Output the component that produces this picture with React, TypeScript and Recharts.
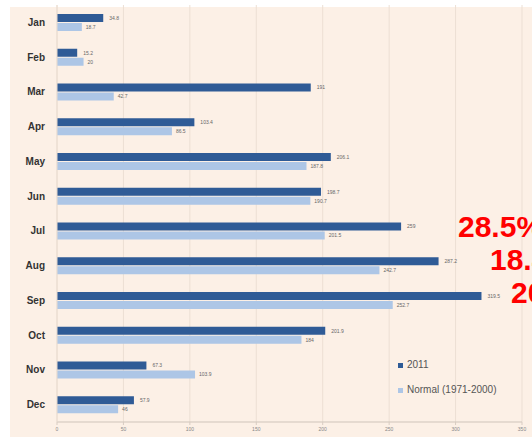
import React from 'react';
import { BarChart, Bar, XAxis, YAxis, CartesianGrid, Legend, LabelList } from 'recharts';

const months = ['Jan', 'Feb', 'Mar', 'Apr', 'May', 'Jun', 'Jul', 'Aug', 'Sep', 'Oct', 'Nov', 'Dec'];
const rain2011 = [34.8, 15.2, 191, 103.4, 206.1, 198.7, 259, 287.2, 319.5, 201.9, 67.3, 57.9];
const rainNormal = [18.7, 20.0, 42.7, 86.5, 187.8, 190.7, 201.5, 242.7, 252.7, 184, 103.9, 46];
const xTicks = [0, 50, 100, 150, 200, 250, 300, 350];
const notes = ['28.5%', '18.4', '20'];

const data = months.map((m, i) => ({ month: m, y2011: rain2011[i], normal: rainNormal[i] }));

const font = '"Liberation Sans Narrow", "Liberation Sans", Arial, sans-serif';
const noteStyle: React.CSSProperties = {
  position: 'absolute',
  color: '#ff0000',
  fontWeight: 'bold',
  fontSize: 30,
  lineHeight: '30px',
  fontFamily: '"Liberation Sans", Arial, sans-serif',
  whiteSpace: 'nowrap',
};

export default function App() {
  return (
    <div style={{ position: 'absolute', left: 0, top: 0, width: 532, height: 437, overflow: 'hidden', background: '#ffffff', fontFamily: font }}>
      <div style={{ position: 'absolute', left: 10, top: 7, right: 0, bottom: 0, background: '#fcf0e6' }} />
      <div style={{ position: 'absolute', left: 0, top: 0 }}>
        <BarChart
          width={532}
          height={437}
          data={data}
          layout="vertical"
          margin={{ top: 5, right: 10, bottom: 0, left: 0 }}
          barSize={8}
          barGap={1}
        >
          <CartesianGrid horizontal={false} stroke="#ecdfd4" />
          <XAxis
            type="number"
            domain={[0, 350]}
            ticks={xTicks}
            height={15}
            tick={{ fontSize: 5, fill: '#888', fontFamily: font }}
            tickLine={{ stroke: '#d8ccc2' }}
            tickSize={3}
            axisLine={{ stroke: '#cfc4ba' }}
          />
          <YAxis
            type="category"
            dataKey="month"
            width={57}
            tickLine={false}
            axisLine={{ stroke: '#eadcd0' }}
            tick={{ fontSize: 10, fontWeight: 'bold', fill: '#333', fontFamily: font }}
            tickMargin={6}
          />
          <Legend
            layout="vertical"
            align="center"
            verticalAlign="middle"
            iconType="square"
            iconSize={5}
            wrapperStyle={{ position: 'absolute', left: 398, top: 352, width: 130, fontSize: 10, lineHeight: '25px', fontFamily: font }}
            formatter={(value: string) => <span style={{ color: '#555' }}>{value}</span>}
          />
          <Bar dataKey="y2011" name="2011" fill="#2f5b96" isAnimationActive={false}>
            <LabelList dataKey="y2011" position="right" offset={6} style={{ fontSize: 5, fill: '#666', fontFamily: font }} />
          </Bar>
          <Bar dataKey="normal" name="Normal (1971-2000)" fill="#adc6e6" isAnimationActive={false}>
            <LabelList dataKey="normal" position="right" offset={4} style={{ fontSize: 5, fill: '#666', fontFamily: font }} />
          </Bar>
        </BarChart>
      </div>
      <div style={{ ...noteStyle, left: 458, top: 212 }}>{notes[0]}</div>
      <div style={{ ...noteStyle, left: 490, top: 245 }}>{notes[1]}</div>
      <div style={{ ...noteStyle, left: 511, top: 278 }}>{notes[2]}</div>
    </div>
  );
}
